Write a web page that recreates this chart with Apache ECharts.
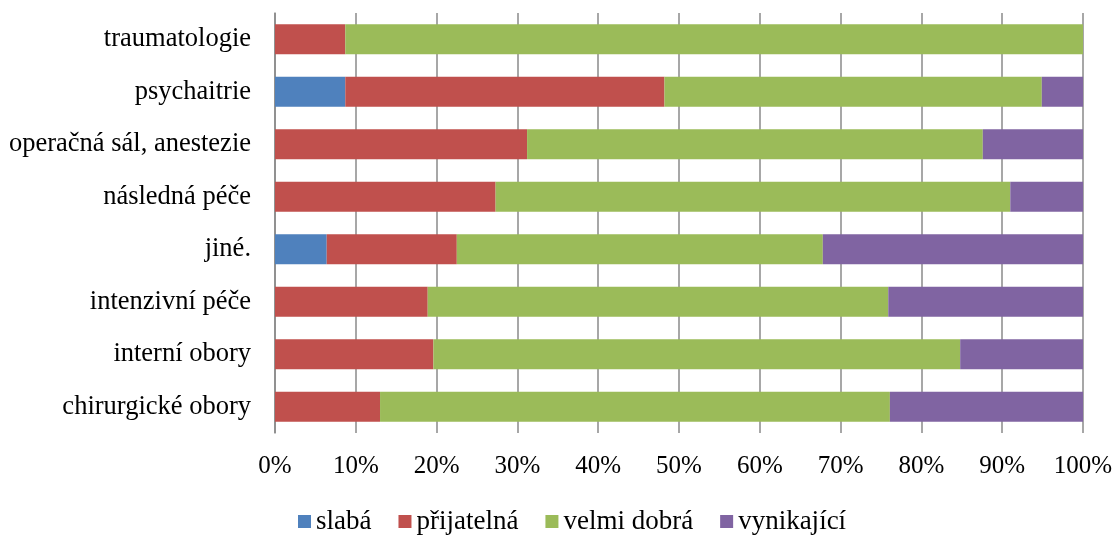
<!DOCTYPE html>
<html>
<head>
<meta charset="utf-8">
<script src="https://cdn.jsdelivr.net/npm/echarts@6/dist/echarts.min.js"></script>
<style>
  html, body { margin: 0; padding: 0; background: #fff; }
  #chart { width: 1113px; height: 536px; }
</style>
</head>
<body>
<div id="chart"></div>
<script>
// categories from bottom to top
var categories = ['chirurgické obory', 'interní obory', 'intenzivní péče', 'jiné.',
  'následná péče', 'operačná sál, anestezie', 'psychaitrie', 'traumatologie'];
var slaba = [0, 0, 0, 6.4, 0, 0, 8.7, 0];
var prijatelna = [13.0, 19.6, 18.9, 16.1, 27.3, 31.2, 39.5, 8.7];
var velmiDobra = [63.1, 65.2, 57.0, 45.3, 63.7, 56.4, 46.7, 91.3];
var vynikajici = [23.9, 15.2, 24.1, 32.2, 9.0, 12.4, 5.1, 0];
var tickLabels = ['0%', '10%', '20%', '30%', '40%', '50%', '60%', '70%', '80%', '90%', '100%'];

var font = 'Liberation Serif, Times New Roman, serif';
var colors = ['#4F81BD', '#C0504D', '#9BBB59', '#8064A2'];

function mk(name, data) {
  return {
    name: name,
    type: 'bar',
    stack: 'all',
    barCategoryGap: '43%',
    data: data
  };
}

var chart = echarts.init(document.getElementById('chart'));
chart.setOption({
  animation: false,
  color: colors,
  textStyle: { fontFamily: font },
  grid: { left: 275, right: 30, top: 13, bottom: 103, containLabel: false, outerBoundsMode: 'none' },
  legend: {
    top: 503,
    left: 293,
    itemWidth: 13,
    itemHeight: 13,
    itemGap: 27,
    icon: 'rect',
    textStyle: { fontFamily: font, fontSize: 27, color: '#000' },
    data: ['slabá', 'přijatelná', 'velmi dobrá', 'vynikající']
  },
  xAxis: {
    type: 'value',
    min: 0,
    max: 100,
    interval: 10,
    axisLine: { show: false },
    axisTick: { show: false },
    splitLine: { show: true, lineStyle: { color: '#8a8a8a', width: 1.5 } },
    axisLabel: {
      margin: 21,
      fontFamily: font,
      fontSize: 25,
      color: '#000',
      formatter: function (v) { return tickLabels[Math.round(v / 10)]; }
    }
  },
  yAxis: {
    type: 'category',
    data: categories,
    axisLine: { show: true, lineStyle: { color: '#8a8a8a', width: 1.5 } },
    axisTick: { show: false },
    axisLabel: { margin: 24, fontFamily: font, fontSize: 26.5, color: '#000' }
  },
  series: [
    mk('slabá', slaba),
    mk('přijatelná', prijatelna),
    mk('velmi dobrá', velmiDobra),
    mk('vynikající', vynikajici)
  ]
});
</script>
</body>
</html>
